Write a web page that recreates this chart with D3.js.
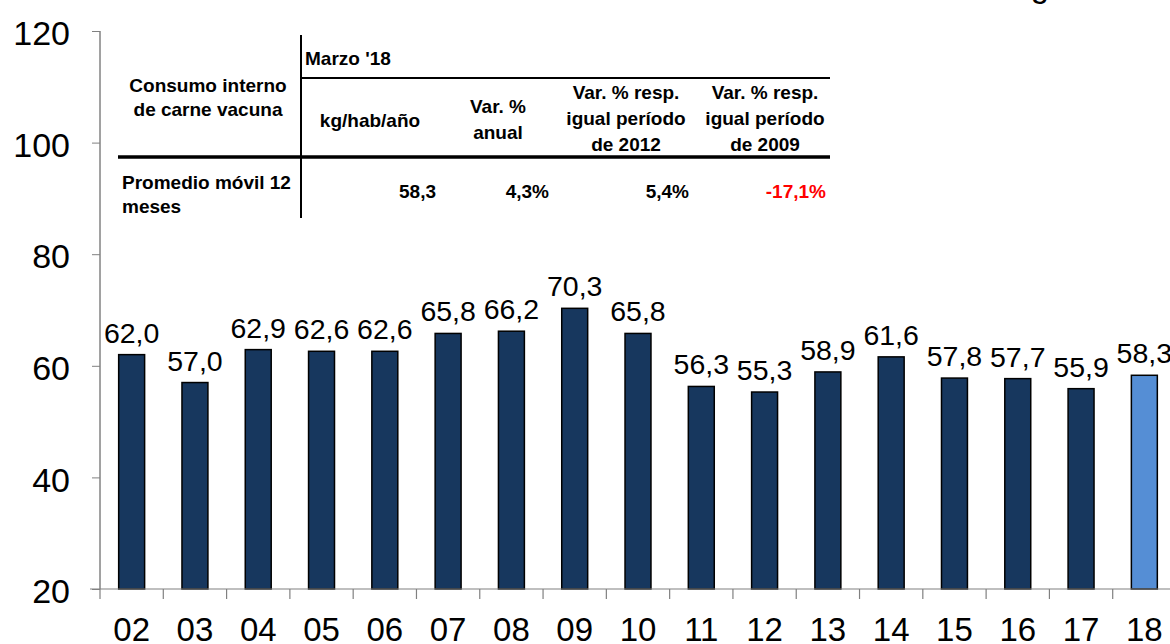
<!DOCTYPE html>
<html>
<head>
<meta charset="utf-8">
<script src="https://cdn.jsdelivr.net/npm/d3@7"></script>
<style>
  body { margin: 0; background: #fff; }
  svg { display: block; font-family: Arial, "Liberation Sans", sans-serif; }
</style>
</head>
<body>
<svg id="chart" width="1170" height="644"></svg>
<script>
// chart data
const years = ['02','03','04','05','06','07','08','09','10','11','12','13','14','15','16','17','18'];
const consumo = [62.0, 57.0, 62.9, 62.6, 62.6, 65.8, 66.2, 70.3, 65.8, 56.3, 55.3, 58.9, 61.6, 57.8, 57.7, 55.9, 58.3];
const yTicks = [20, 40, 60, 80, 100, 120];

// summary table
const tablePeriodo = "Marzo '18";
const tableRowLabel = ['Promedio móvil 12', 'meses'];
const tableHeaders = [
  ['kg/hab/año'],
  ['Var. %', 'anual'],
  ['Var. % resp.', 'igual período', 'de 2012'],
  ['Var. % resp.', 'igual período', 'de 2009']
];
const tableValues = ['58,3', '4,3%', '5,4%', '-17,1%'];

const svg = d3.select('#chart');

const x = d3.scaleBand()
  .domain(years)
  .range([100, 1176])
  .paddingInner(0.59)
  .paddingOuter(0.295);

const y = d3.scaleLinear()
  .domain([20, 120])
  .range([589, 31]);

const fmt = v => d3.format('.1f')(v).replace('.', ',');

// y axis
const yAxis = svg.append('g').attr('transform', 'translate(100,0)')
  .call(d3.axisLeft(y).tickValues(yTicks).tickSize(8).tickPadding(22));
yAxis.select('.domain').attr('stroke', '#444').attr('d', `M0,${y(120)}V${y(20)}`);
yAxis.selectAll('.tick line').attr('stroke', '#808080');
yAxis.selectAll('.tick text')
  .attr('font-size', 34)
  .attr('fill', '#000')
  .attr('font-family', 'Arial, "Liberation Sans", sans-serif')
  .attr('dy', '0.4em');

// bars
svg.append('g').selectAll('rect')
  .data(consumo)
  .join('rect')
  .attr('x', (d, i) => x(years[i]))
  .attr('y', d => y(d))
  .attr('width', x.bandwidth())
  .attr('height', d => y(20) - y(d))
  .attr('fill', (d, i) => i === consumo.length - 1 ? '#558ed5' : '#17375e')
  .attr('stroke', '#000')
  .attr('stroke-width', 1.5);

// value labels
svg.append('g').selectAll('text')
  .data(consumo)
  .join('text')
  .attr('x', (d, i) => x(years[i]) + x.bandwidth() / 2)
  .attr('y', d => y(d) - 12)
  .attr('text-anchor', 'middle')
  .attr('font-size', 28.5)
  .attr('fill', '#000')
  .text(d => fmt(d));

// x axis: line plus ticks at category boundaries
const xAxis = svg.append('g');
xAxis.append('line')
  .attr('x1', 90).attr('x2', 1170)
  .attr('y1', y(20)).attr('y2', y(20))
  .attr('stroke', '#808080').attr('stroke-width', 1.2);
xAxis.selectAll('line.tk')
  .data(years)
  .join('line')
  .attr('class', 'tk')
  .attr('x1', d => x(d) - x.step() * x.paddingInner() / 2)
  .attr('x2', d => x(d) - x.step() * x.paddingInner() / 2)
  .attr('y1', y(20)).attr('y2', y(20) + 10)
  .attr('stroke', '#808080').attr('stroke-width', 1.2);
xAxis.selectAll('text')
  .data(years)
  .join('text')
  .attr('x', d => x(d) + x.bandwidth() / 2)
  .attr('y', 641)
  .attr('text-anchor', 'middle')
  .attr('font-size', 33)
  .text(d => d);

// cut-off title fragment at the top
svg.append('text')
  .attr('x', 1040).attr('y', -3)
  .attr('text-anchor', 'middle')
  .attr('font-size', 33)
  .text('g');

// table
const tbl = svg.append('g')
  .attr('font-weight', 'bold')
  .attr('font-size', 19)
  .attr('fill', '#000');

tbl.append('rect').attr('x', 118).attr('y', 36).attr('width', 714).attr('height', 184).attr('fill', '#fff');

tbl.append('line').attr('x1', 301).attr('x2', 301).attr('y1', 35).attr('y2', 218)
  .attr('stroke', '#000').attr('stroke-width', 2);
tbl.append('line').attr('x1', 300).attr('x2', 830).attr('y1', 78).attr('y2', 78)
  .attr('stroke', '#000').attr('stroke-width', 2);
tbl.append('line').attr('x1', 118).attr('x2', 830).attr('y1', 157).attr('y2', 157)
  .attr('stroke', '#000').attr('stroke-width', 3.5);

tbl.append('text').attr('x', 305).attr('y', 65).text(tablePeriodo);

tbl.append('text').attr('text-anchor', 'middle')
  .selectAll('tspan')
  .data(['Consumo interno', 'de carne vacuna'])
  .join('tspan')
  .attr('x', 208)
  .attr('y', (d, i) => 92 + i * 24)
  .text(d => d);

const colCenters = [370, 498, 626, 765];
const colRights = [436, 549, 689, 826];

tableHeaders.forEach((lines, c) => {
  const top = lines.length === 3 ? 99 : (lines.length === 2 ? 113 : 127);
  tbl.append('text').attr('text-anchor', 'middle')
    .selectAll('tspan')
    .data(lines)
    .join('tspan')
    .attr('x', colCenters[c])
    .attr('y', (d, i) => top + i * 26)
    .text(d => d);
});

tbl.append('text')
  .selectAll('tspan')
  .data(tableRowLabel)
  .join('tspan')
  .attr('x', 122)
  .attr('y', (d, i) => 189 + i * 24)
  .text(d => d);

tbl.selectAll('text.val')
  .data(tableValues)
  .join('text')
  .attr('class', 'val')
  .attr('x', (d, i) => colRights[i])
  .attr('y', 198)
  .attr('text-anchor', 'end')
  .attr('fill', d => d.startsWith('-') ? '#ff0000' : '#000')
  .text(d => d);
</script>
</body>
</html>
